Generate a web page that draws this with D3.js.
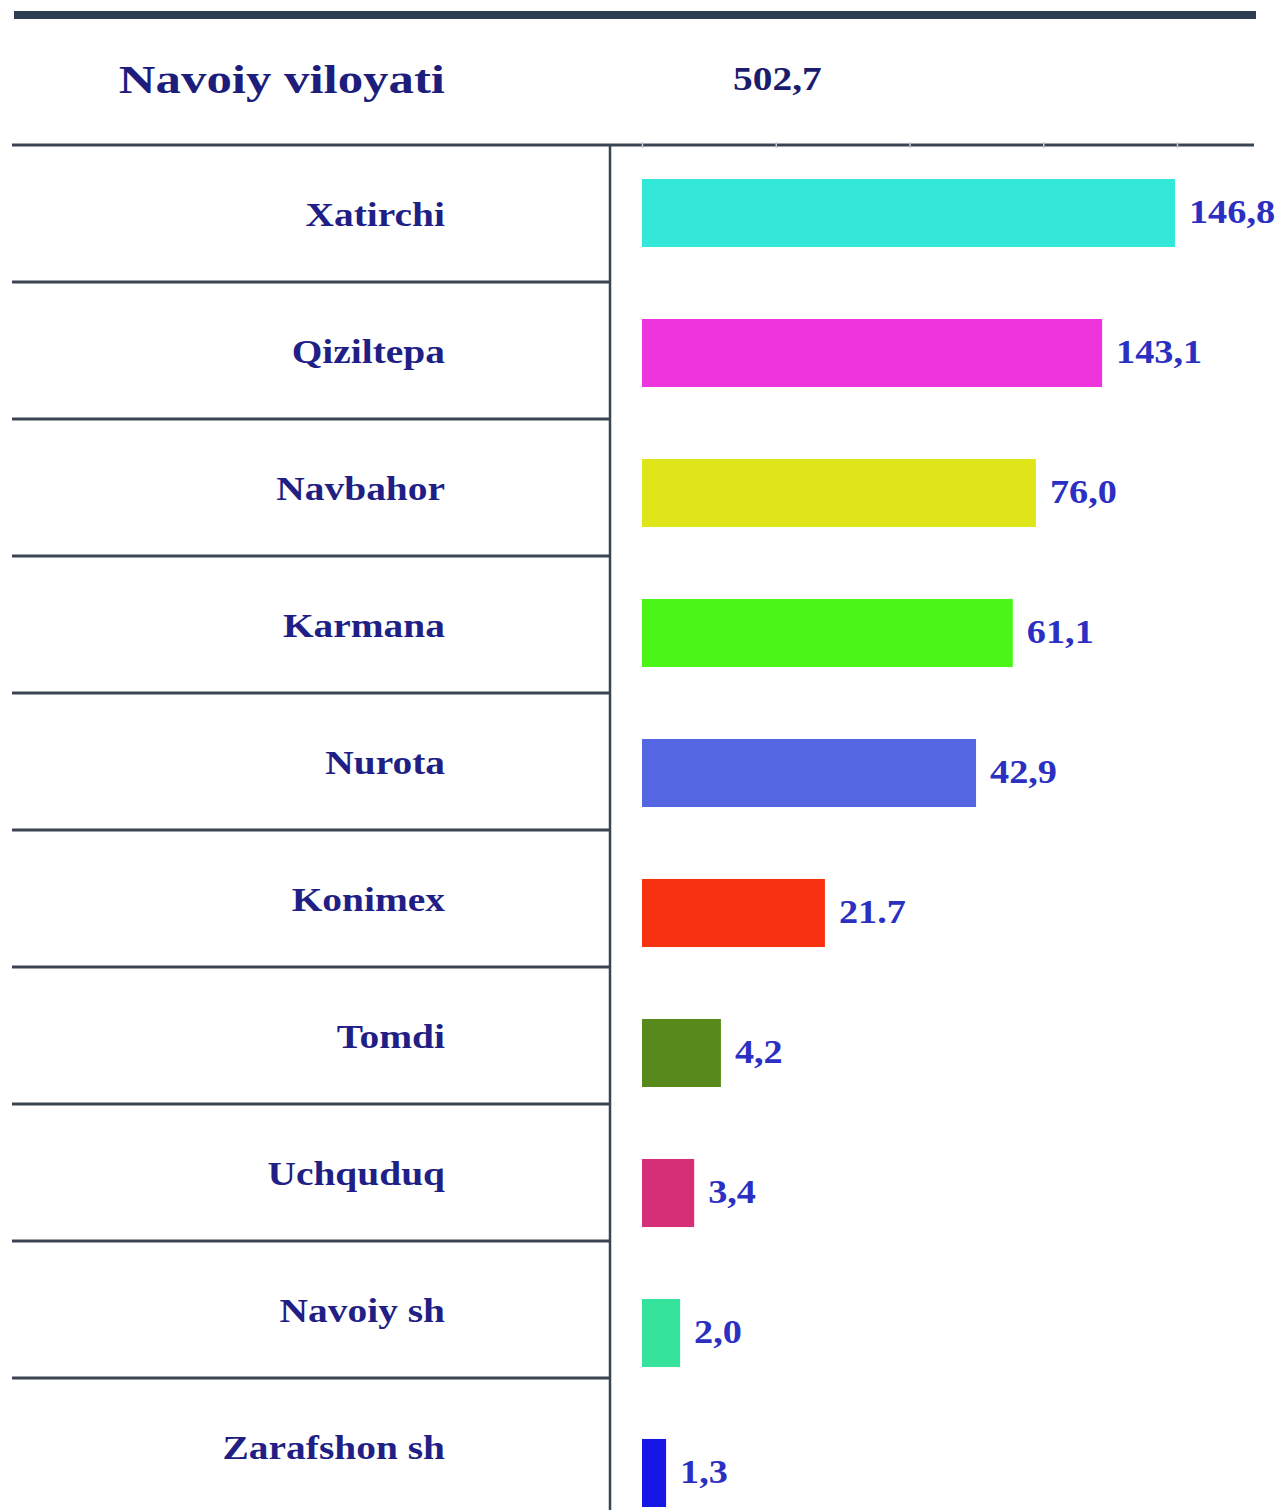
<!DOCTYPE html>
<html>
<head>
<meta charset="utf-8">
<script src="https://cdn.jsdelivr.net/npm/d3@7/dist/d3.min.js"></script>
<style>
  html, body { margin: 0; padding: 0; background: #ffffff; }
  svg { display: block; }
</style>
</head>
<body>
<svg id="chart" width="1278" height="1510"></svg>
<script>
// ---- data ----
const titleText = "Navoiy viloyati";
const totalLabel = "502,7";
const categories = ["Xatirchi", "Qiziltepa", "Navbahor", "Karmana", "Nurota",
                    "Konimex", "Tomdi", "Uchquduq", "Navoiy sh", "Zarafshon sh"];
const valueLabels = ["146,8", "143,1", "76,0", "61,1", "42,9",
                     "21.7", "4,2", "3,4", "2,0", "1,3"];
// bar lengths as drawn in the picture, in units of the (unlabelled) top axis
const barLengths = [159.4, 137.6, 117.8, 110.9, 99.9, 54.7, 23.6, 15.6, 11.4, 7.2];
const barColors = ["#33e8d8", "#ee34dd", "#dee619", "#4cf518", "#5566e2",
                   "#f7300f", "#578a1a", "#d62f78", "#35e39c", "#1616e6"];
const axisTicks = [0, 40, 80, 120, 160];

// ---- layout ----
const svg = d3.select("#chart");
const W = 1278, H = 1510;
svg.append("rect").attr("width", W).attr("height", H).attr("fill", "#ffffff");

const serif = "'Liberation Serif', 'Times New Roman', 'DejaVu Serif', serif";
const stretch = 1.16;
const lineColor = "#3a4452";

const x = d3.scaleLinear().domain([0, 160]).range([642, 1177]);
const y = d3.scaleBand().domain(categories).range([143, 1543])
  .paddingInner(0.514).paddingOuter(0.257);
const rows = d3.scaleBand().domain(categories).range([145, 1515]).padding(0);

// top thick rule
svg.append("line").attr("x1", 14).attr("x2", 1256).attr("y1", 15).attr("y2", 15)
  .attr("stroke", "#2f3d52").attr("stroke-width", 8);

// title and total
svg.append("text")
  .attr("transform", `translate(445,93) scale(1.24,1)`)
  .attr("text-anchor", "end")
  .attr("font-family", serif).attr("font-weight", "bold").attr("font-size", 41)
  .attr("fill", "#1d1d7c").text(titleText);
svg.append("text")
  .attr("transform", `translate(733,90) scale(${stretch},1)`)
  .attr("text-anchor", "start")
  .attr("font-family", serif).attr("font-weight", "bold").attr("font-size", 34)
  .attr("fill", "#1c1c6e").text(totalLabel);

// header rule (axis line)
svg.append("line").attr("x1", 12).attr("x2", 1254).attr("y1", 145).attr("y2", 145)
  .attr("stroke", lineColor).attr("stroke-width", 3);

// faint axis ticks
const axis = d3.axisTop(x).tickValues(axisTicks).tickSize(4).tickFormat("");
const ag = svg.append("g").attr("transform", "translate(0,145)").call(axis);
ag.select(".domain").remove();
ag.selectAll(".tick line").attr("stroke", "#c8ccd2").attr("stroke-width", 1.5)
  .attr("y2", 3).attr("y1", -3);

// row separators (left table)
svg.append("g").selectAll("line")
  .data(categories.slice(1))
  .join("line")
  .attr("x1", 12).attr("x2", 610)
  .attr("y1", d => rows(d)).attr("y2", d => rows(d))
  .attr("stroke", lineColor).attr("stroke-width", 3);

// vertical divider
svg.append("line").attr("x1", 610).attr("x2", 610).attr("y1", 145).attr("y2", H)
  .attr("stroke", lineColor).attr("stroke-width", 2.5);

// category labels
svg.append("g").selectAll("text")
  .data(categories)
  .join("text")
  .attr("transform", d => `translate(445,${rows(d) + rows.bandwidth() / 2 + 12}) scale(${stretch},1)`)
  .attr("text-anchor", "end")
  .attr("font-family", serif).attr("font-weight", "bold").attr("font-size", 34)
  .attr("fill", "#1f1f86")
  .text(d => d);

// bars
svg.append("g").selectAll("rect")
  .data(categories)
  .join("rect")
  .attr("x", x(0))
  .attr("y", d => y(d))
  .attr("width", (d, i) => x(barLengths[i]) - x(0))
  .attr("height", y.bandwidth())
  .attr("fill", (d, i) => barColors[i]);

// value labels
svg.append("g").selectAll("text")
  .data(categories)
  .join("text")
  .attr("transform", (d, i) => `translate(${x(barLengths[i]) + 14},${y(d) + y.bandwidth() / 2 + 10}) scale(${stretch},1)`)
  .attr("text-anchor", "start")
  .attr("font-family", serif).attr("font-weight", "bold").attr("font-size", 33)
  .attr("fill", "#2b30c2")
  .text((d, i) => valueLabels[i]);
</script>
</body>
</html>
